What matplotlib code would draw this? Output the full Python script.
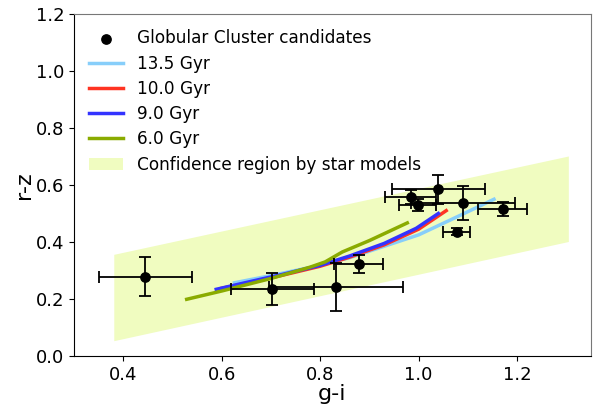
import numpy as np
import matplotlib
matplotlib.use('Agg')
import matplotlib.pyplot as plt

# globular cluster candidates: g-i, r-z and their errors
gc_gi = [0.445, 0.703, 0.833, 0.878, 0.984, 1.040, 0.998, 1.090, 1.171, 1.077]
gc_rz = [0.278, 0.235, 0.242, 0.323, 0.559, 0.585, 0.530, 0.538, 0.515, 0.436]
gc_gi_err = [0.095, 0.085, 0.136, 0.050, 0.052, 0.095, 0.037, 0.105, 0.050, 0.027]
gc_rz_err = [0.068, 0.055, 0.085, 0.031, 0.025, 0.050, 0.020, 0.060, 0.024, 0.012]

# model tracks
gi_135 = [0.626, 0.70, 0.80, 0.86, 0.93, 1.00, 1.08, 1.153]
rz_135 = [0.257, 0.282, 0.318, 0.345, 0.385, 0.425, 0.490, 0.550]
gi_100 = [0.601, 0.65, 0.72, 0.80, 0.86, 0.93, 1.00, 1.056]
rz_100 = [0.238, 0.255, 0.282, 0.315, 0.347, 0.390, 0.445, 0.510]
gi_90 = [0.589, 0.65, 0.72, 0.80, 0.86, 0.93, 0.995, 1.040]
rz_90 = [0.234, 0.258, 0.285, 0.318, 0.351, 0.395, 0.448, 0.500]
gi_60 = [0.529, 0.60, 0.70, 0.78, 0.81, 0.845, 0.90, 0.977]
rz_60 = [0.199, 0.228, 0.272, 0.312, 0.330, 0.365, 0.405, 0.467]

# confidence region corners
reg_gi = [0.382, 1.305, 1.305, 0.382]
reg_rz = [0.052, 0.400, 0.700, 0.355]

fig = plt.figure(figsize=(5.96, 4.07), dpi=100)
ax = fig.add_axes([0.124, 0.1253, 0.8676, 0.8403])

ax.fill(reg_gi, reg_rz, color='#f0fcc0', lw=0, label='Confidence region by star models', zorder=1)
ax.plot(gi_135, rz_135, color='#87cefa', lw=2.5, label='13.5 Gyr', zorder=2)
ax.plot(gi_100, rz_100, color='#ff3322', lw=2.5, label='10.0 Gyr', zorder=2)
ax.plot(gi_90, rz_90, color='#3333ff', lw=2.5, label='9.0 Gyr', zorder=2)
ax.plot(gi_60, rz_60, color='#8aab00', lw=2.5, label='6.0 Gyr', zorder=2)

ax.errorbar(gc_gi, gc_rz, xerr=gc_gi_err, yerr=gc_rz_err, fmt='none',
            ecolor='black', elinewidth=1.3, capsize=4, capthick=1.3, zorder=3)
ax.scatter(gc_gi, gc_rz, s=45, color='black', label='Globular Cluster candidates', zorder=4)

handles, labels = ax.get_legend_handles_labels()
order = [5, 1, 2, 3, 4, 0]
ax.legend([handles[i] for i in order], [labels[i] for i in order],
          loc='upper left', frameon=False, fontsize=12.2, labelspacing=0.43)

ax.set_xlim(0.3, 1.35)
ax.set_ylim(0.0, 1.2)
ax.set_xticks([0.4, 0.6, 0.8, 1.0, 1.2])
ax.tick_params(labelsize=13)
ax.spines['top'].set_color('#777777')
ax.spines['right'].set_color('#777777')
ax.set_xlabel('g-i', fontsize=16, labelpad=0)
ax.set_ylabel('r-z', fontsize=16, labelpad=1)

fig.savefig('out.png', dpi=100)
